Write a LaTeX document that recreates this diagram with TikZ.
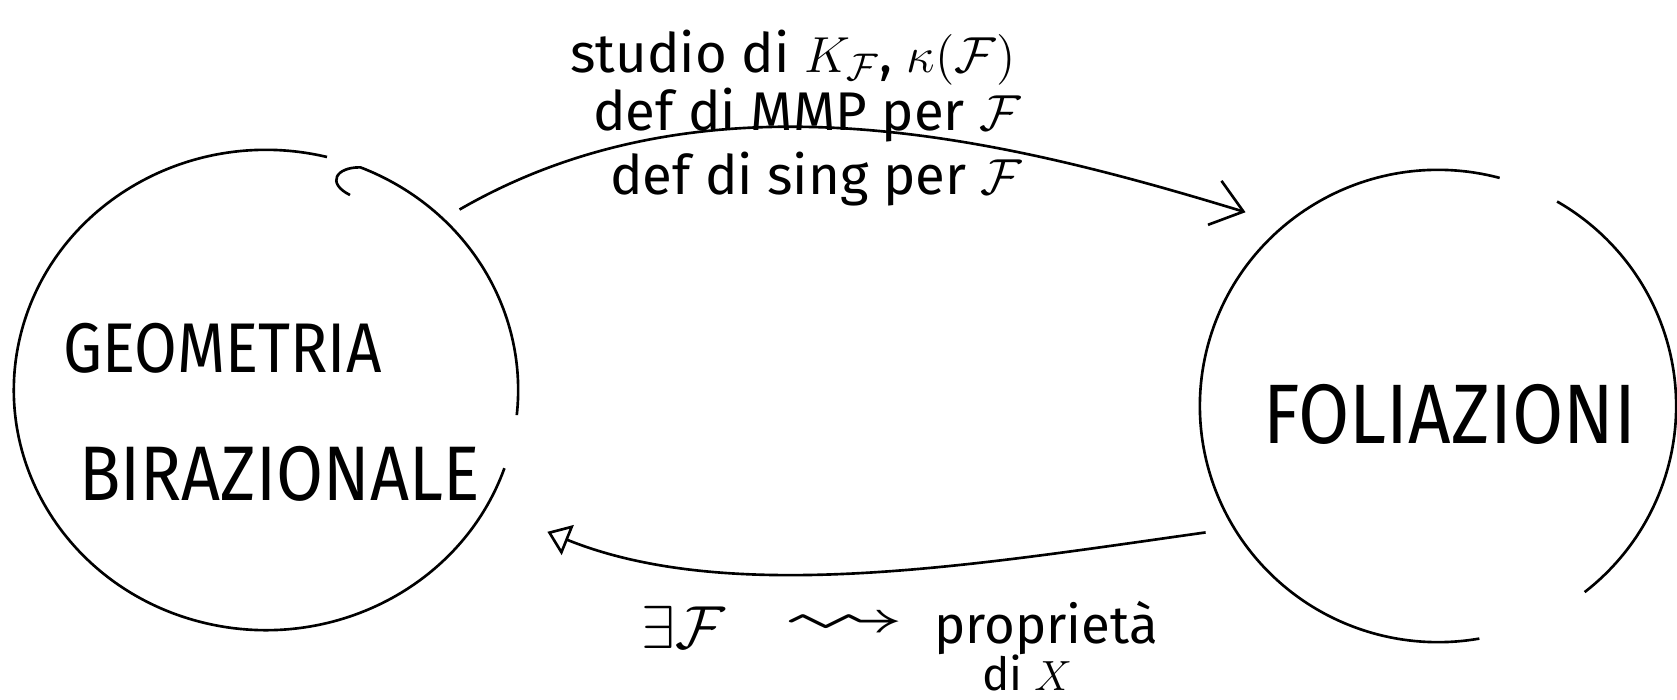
\documentclass[tikz,border=0pt]{standalone}
\usepackage{amssymb}
\usepackage{fontspec}
\setmainfont{Fira Sans}
\newfontfamily\capsfont{Fira Sans}[FakeStretch=0.88]
\usetikzlibrary{arrows.meta, positioning, shapes.geometric}

\begin{document}
\begin{tikzpicture}[x=0.01cm, y=-0.01cm, line width=0.75pt,
    blob/.style={ellipse, inner sep=0pt, outer sep=0pt},
    bigcaps/.style={font=\capsfont\fontsize{#1}{#1}\selectfont, inner sep=0pt, anchor=base west},
    note/.style={font=\fontsize{#1}{#1}\selectfont, inner sep=0pt, anchor=base},
    note/.default=15.5]
  \useasboundingbox (0,0) rectangle (1677,699);

  \node[blob, minimum width=5.04cm, minimum height=4.80cm] (geo) at (266,390) {};
  \node[blob, minimum width=4.76cm, minimum height=4.72cm] (fol) at (1438,406) {};

  % the two hand drawn rings, left open
  \draw ([shift={(76:2.52cm and 2.40cm)}]geo.center) arc[start angle=76, end angle=341, x radius=2.52cm, y radius=2.40cm];
  \draw (350,195) .. controls (326,183) and (336,167) .. ([shift={(68:2.52cm and 2.40cm)}]geo.center)
    arc[start angle=68, end angle=-6, x radius=2.52cm, y radius=2.40cm];
  \draw ([shift={(75:2.38cm and 2.36cm)}]fol.center) arc[start angle=75, end angle=280, x radius=2.38cm, y radius=2.36cm];
  \draw ([shift={(60:2.38cm and 2.36cm)}]fol.center) arc[start angle=60, end angle=-52, x radius=2.38cm, y radius=2.36cm];

  \node[bigcaps=20] (geo1) at (62,372) {GEOMETRIA};
  \node[bigcaps=22] (geo2) at (78,500) {BIRAZIONALE};
  \node[bigcaps=24] (fol1) at (1262,443) {FOLIAZIONI};

  \node[note] (stud) at (793,72) {studio di $K_{\mathcal{F}}$, $\kappa(\mathcal{F})$};
  \node[note] (mmp) at (807,130) {def di MMP per $\mathcal{F}$};
  \node[note] (sing) at (816,194) {def di sing per $\mathcal{F}$};

  \node[note=18] (exf) at (683,648) {$\exists\mathcal{F}$};
  \node[note=16] (squig) at (844,638) {\scalebox{2.2}[1.2]{$\rightsquigarrow$}};
  \node[note=15] (prop) at (1046,643) {proprietà};
  \node[note=13] (dix) at (1027,690) {di $X$};

  \draw[-{Straight Barb[length=3mm, width=4.6mm]}, shorten <=0.19cm, shorten >=0.42cm]
    (geo.44) to[out=30, in=163, looseness=0.92] (fol.130);
  \draw[-{Triangle[open, length=2.2mm, width=3.2mm]}, shorten <=0.29cm, shorten >=0.66cm]
    (fol.211) to[out=188, in=-22, looseness=0.9] (geo.332);
\end{tikzpicture}
\end{document}
